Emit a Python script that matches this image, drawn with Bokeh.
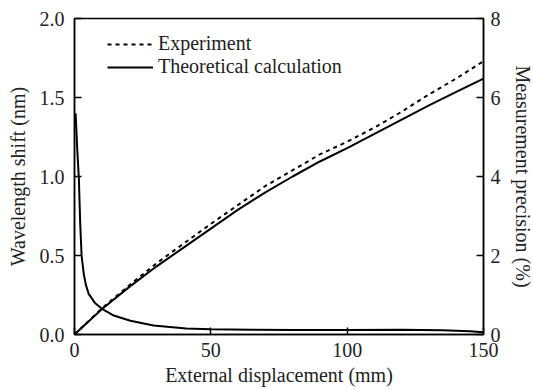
from bokeh.plotting import figure
from bokeh.models import Range1d, LinearAxis, Legend, LegendItem, FixedTicker, CustomJSTickFormatter
from bokeh.embed import file_html
from bokeh.resources import INLINE

# Wavelength shift (nm) vs external displacement (mm)
disp = [0, 10, 20, 30, 40, 50, 60, 70, 80, 90, 100, 110, 120, 130, 140, 150]
shift_experiment = [0, 0.165, 0.31, 0.45, 0.575, 0.70, 0.82, 0.94, 1.04, 1.14, 1.22, 1.31, 1.41, 1.52, 1.62, 1.73]
shift_theory = [0, 0.16, 0.30, 0.43, 0.55, 0.67, 0.79, 0.90, 1.00, 1.095, 1.18, 1.27, 1.36, 1.45, 1.535, 1.62]

# Measurement precision (%) vs external displacement (mm)
prec_disp = [0.4, 1.0, 1.6, 2.1, 2.6, 3.4, 4.2, 5.2, 7.5, 10.1, 14.4, 20.5, 29, 41, 50, 65, 80, 100, 120, 135, 145, 150]
precision = [5.6, 4.7, 3.95, 2.8, 2.0, 1.53, 1.25, 1.03, 0.8, 0.65, 0.48, 0.35, 0.23, 0.15, 0.13, 0.12, 0.115, 0.115, 0.12, 0.11, 0.08, 0.06]

x_ticks = [0, 50, 100, 150]
y_ticks = [0, 0.5, 1.0, 1.5, 2.0]
y2_ticks = [0, 2, 4, 6, 8]

FONT = "Liberation Serif"
TXT = "#222222"

p = figure(width=533, height=390, output_backend="svg", toolbar_location=None,
           x_range=Range1d(0, 150), y_range=Range1d(0, 2.0),
           frame_width=409, frame_height=316,
           min_border_left=74, min_border_right=50, min_border_top=18, min_border_bottom=56)
p.extra_y_ranges = {"prec": Range1d(0, 8)}
p.grid.visible = False
p.outline_line_color = "black"
p.outline_line_width = 1.5
p.background_fill_color = "white"
p.border_fill_color = "white"

def style_axis(ax):
    ax.axis_line_color = "black"
    ax.axis_line_width = 1.5
    ax.major_tick_in = 7
    ax.major_tick_out = 0
    ax.minor_tick_line_color = None
    ax.major_tick_line_width = 1.5
    ax.major_label_text_font = FONT
    ax.major_label_text_font_size = "20px"
    ax.major_label_text_color = TXT
    ax.axis_label_text_font = FONT
    ax.axis_label_text_font_size = "20px"
    ax.axis_label_text_font_style = "normal"
    ax.axis_label_text_color = TXT

p.xaxis.ticker = FixedTicker(ticks=x_ticks)
p.xaxis.axis_label = "External displacement (mm)"
p.xaxis.major_label_standoff = 8
p.xaxis.axis_label_standoff = 4
style_axis(p.xaxis[0])

p.yaxis.ticker = FixedTicker(ticks=y_ticks)
p.yaxis.formatter = CustomJSTickFormatter(code="return tick.toFixed(1);")
p.yaxis.axis_label = "Wavelength shift (nm)"
p.yaxis.major_label_standoff = 10
p.yaxis.axis_label_standoff = 8
style_axis(p.yaxis[0])

ax2 = LinearAxis(y_range_name="prec", axis_label="Measurement precision (%)",
                 ticker=FixedTicker(ticks=y2_ticks))
style_axis(ax2)
ax2.major_label_standoff = 7
ax2.axis_label_standoff = 8
p.add_layout(ax2, "right")

r_exp = p.line(disp, shift_experiment, line_color="black", line_width=2, line_dash="4 4")
r_th = p.line(disp, shift_theory, line_color="black", line_width=2)
p.line(prec_disp, precision, line_color="black", line_width=2, y_range_name="prec")

legend = Legend(items=[LegendItem(label="Experiment", renderers=[r_exp]),
                       LegendItem(label="Theoretical calculation", renderers=[r_th])],
                location=(33, 256))
legend.border_line_color = None
legend.background_fill_alpha = 0
legend.padding = 0
legend.margin = 0
legend.spacing = 0
legend.glyph_width = 46
legend.glyph_height = 20
legend.label_height = 20
legend.label_standoff = 5
legend.label_text_font = FONT
legend.label_text_font_size = "20px"
legend.label_text_color = TXT
p.add_layout(legend, "center")

open("out.html", "w").write(file_html(p, INLINE))
